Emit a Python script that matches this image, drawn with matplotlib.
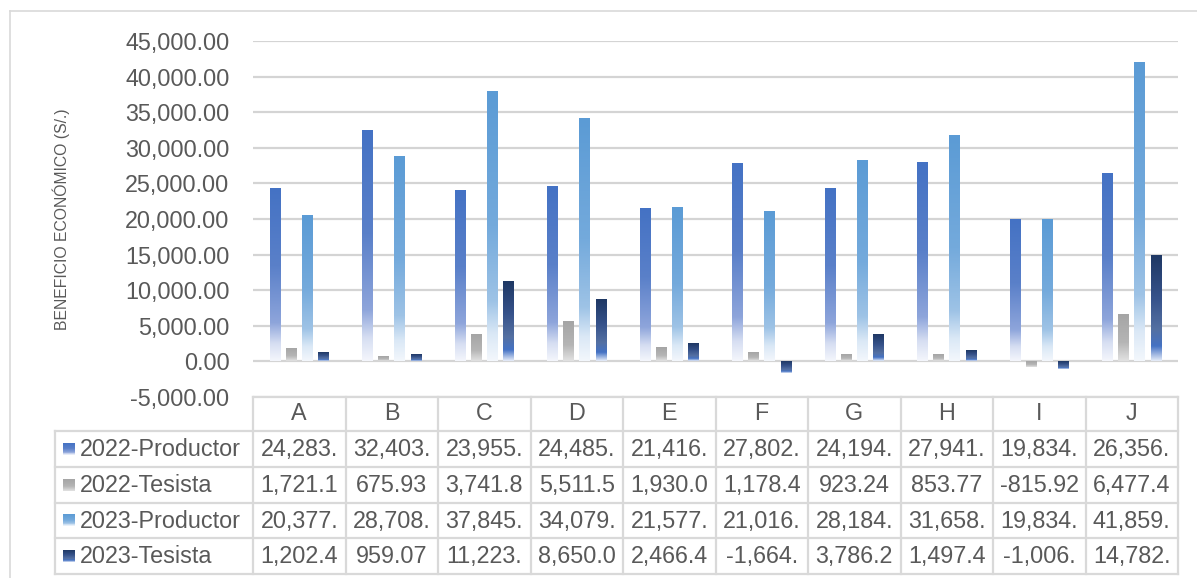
import numpy as np
import matplotlib
matplotlib.use("Agg")
import matplotlib.pyplot as plt
from matplotlib.colors import LinearSegmentedColormap

plt.rcParams['font.family'] = ['Liberation Sans', 'DejaVu Sans']

# data
categories = ['A', 'B', 'C', 'D', 'E', 'F', 'G', 'H', 'I', 'J']
series_names = ['2022-Productor', '2022-Tesista', '2023-Productor', '2023-Tesista']
prod_2022 = [24283, 32403, 23955, 24485, 21416, 27802, 24194, 27941, 19834, 26356]
tes_2022 = [1721.1, 675.93, 3741.8, 5511.5, 1930.0, 1178.4, 923.24, 853.77, -815.92, 6477.4]
prod_2023 = [20377, 28708, 37845, 34079, 21577, 21016, 28184, 31658, 19834, 41859]
tes_2023 = [1202.4, 959.07, 11223, 8650.0, 2466.4, -1664, 3786.2, 1497.4, -1006, 14782]
series_values = [prod_2022, tes_2022, prod_2023, tes_2023]

# gradient fills (top -> bottom of each bar)
grad_stops = [
    [(0, '#4472C4'), (0.45, '#5A80C9'), (0.78, '#8EA5DB'), (0.9, '#D6DEF2'), (1, '#F4F6FC')],
    [(0, '#A5A5A5'), (0.6, '#B5B5B5'), (1, '#E2E2E2')],
    [(0, '#5B9BD5'), (0.5, '#74AADC'), (0.78, '#9EC3E6'), (0.9, '#DAE8F6'), (1, '#F3F7FC')],
    [(0, '#1F3864'), (0.4, '#36528A'), (0.7, '#5470A2'), (0.86, '#4472C4'), (1, '#E6ECF8')],
]
cmaps = [LinearSegmentedColormap.from_list('g%d' % i, s) for i, s in enumerate(grad_stops)]
grad = np.linspace(0, 1, 256).reshape(-1, 1)

W, H = 1197, 578
fig = plt.figure(figsize=(W / 100, H / 100), dpi=100)
fig.patch.set_facecolor('white')

left, right, top, bottom = 253, 1178, 41, 397
ax = fig.add_axes([left / W, 1 - bottom / H, (right - left) / W, (bottom - top) / H])
ax.patch.set_alpha(0)

x = np.arange(len(categories))
bar_w = 0.115
pitch = 0.174
for i, vals in enumerate(series_values):
    off = (i - 1.5) * pitch
    for xi, v in zip(x, vals):
        ax.imshow(grad, cmap=cmaps[i], aspect='auto', origin='upper',
                  extent=(xi + off - bar_w / 2, xi + off + bar_w / 2, min(0, v), max(0, v)),
                  interpolation='bilinear', zorder=3)

ax.set_xlim(-0.5, len(categories) - 0.5)
ax.set_ylim(-5000, 45000)
ax.set_yticks(np.arange(-5000, 45001, 5000))
ax.set_yticklabels(['{:,.2f}'.format(t) for t in np.arange(-5000, 45001, 5000)])
ax.tick_params(axis='y', length=0, pad=17, labelsize=16.8, labelcolor='#595959')
ax.set_xticks([])
ax.grid(axis='y', color='#D4D4D4', linewidth=1.6, zorder=0)
for s in ax.spines.values():
    s.set_visible(False)
ax.set_ylabel('BENEFICIO ECONÓMICO (S/.)', fontsize=11.3, color='#595959')
ax.yaxis.set_label_coords((70 - left) / (right - left), 0.5)

# data table below plot (pixel coordinates overlay)
ov = fig.add_axes([0, 0, 1, 1])
ov.set_xlim(0, W)
ov.set_ylim(H, 0)
ov.axis('off')
ov.patch.set_alpha(0)

line_c = '#D9D9D9'
# outer chart border
ov.plot([10, W], [11, 11], color=line_c, lw=1.2)
ov.plot([10, 10], [11, H], color=line_c, lw=1.2)

col_w = (right - left) / len(categories)
row_edges = [397, 431, 466.7, 502.5, 538.2, 573.5]
lab_left = 55
ov.plot([left, right], [row_edges[0]] * 2, color=line_c, lw=1.6)
for y in row_edges[1:]:
    ov.plot([lab_left, right], [y, y], color=line_c, lw=1.6)
ov.plot([lab_left, lab_left], [row_edges[1], row_edges[-1]], color=line_c, lw=1.6)
for k in range(len(categories) + 1):
    xx = left + k * col_w
    ov.plot([xx, xx], [row_edges[0], row_edges[-1]], color=line_c, lw=1.6)

txt = dict(fontsize=16.8, color='#595959', va='center')
for k, c in enumerate(categories):
    ov.text(left + (k + 0.5) * col_w, (row_edges[0] + row_edges[1]) / 2, c, ha='center', **txt)

for i, (name, vals) in enumerate(zip(series_names, series_values)):
    yc = (row_edges[i + 1] + row_edges[i + 2]) / 2
    ov.imshow(grad, cmap=cmaps[i], aspect='auto', origin='upper',
              extent=(63, 75, yc + 6, yc - 6), interpolation='bilinear')
    ov.text(80, yc + 1, name, ha='left', **txt)
    for k, v in enumerate(vals):
        s = '{:,.2f}'.format(v)[:7]
        ov.text(left + (k + 0.5) * col_w, yc + 1, s, ha='center', **txt)
ov.set_xlim(0, W)
ov.set_ylim(H, 0)

fig.savefig('out.png', dpi=100)
